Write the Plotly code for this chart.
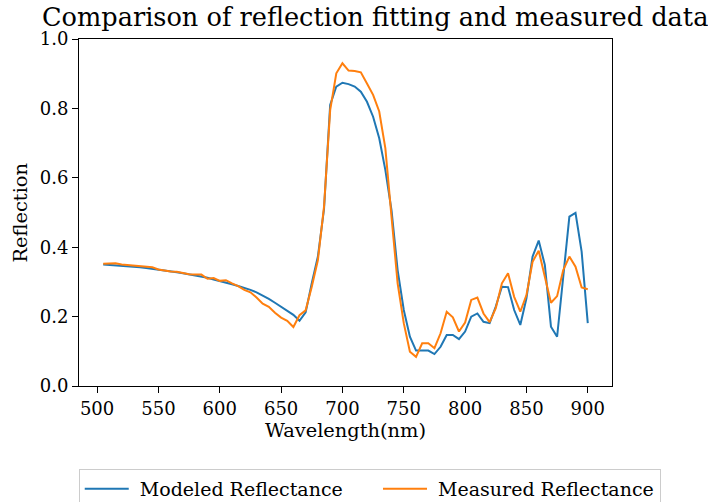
import plotly.graph_objects as go

wavelength = list(range(505, 905, 5))

modeled = [
    0.350, 0.349, 0.347, 0.345, 0.344, 0.343, 0.342, 0.340, 0.338, 0.335,
    0.332, 0.330, 0.328, 0.325, 0.322, 0.319, 0.316, 0.312, 0.307, 0.303,
    0.298, 0.293, 0.288, 0.283, 0.277, 0.270, 0.261, 0.251, 0.240, 0.229,
    0.218, 0.205, 0.188, 0.212, 0.296, 0.373, 0.510, 0.810, 0.863, 0.874,
    0.870, 0.863, 0.848, 0.819, 0.776, 0.714, 0.622, 0.507, 0.334, 0.219,
    0.142, 0.102, 0.102, 0.102, 0.092, 0.113, 0.147, 0.147, 0.135, 0.157,
    0.200, 0.209, 0.185, 0.181, 0.229, 0.286, 0.285, 0.219, 0.176, 0.253,
    0.373, 0.419, 0.349, 0.171, 0.142, 0.315, 0.488, 0.499, 0.387, 0.181,
]

measured = [
    0.352, 0.353, 0.354, 0.350, 0.348, 0.346, 0.346, 0.344, 0.342, 0.336,
    0.332, 0.330, 0.329, 0.325, 0.322, 0.321, 0.321, 0.309, 0.311, 0.303,
    0.305, 0.296, 0.288, 0.277, 0.270, 0.255, 0.237, 0.228, 0.211, 0.197,
    0.188, 0.170, 0.204, 0.218, 0.286, 0.363, 0.517, 0.795, 0.901, 0.930,
    0.909, 0.908, 0.904, 0.872, 0.839, 0.791, 0.685, 0.488, 0.296, 0.181,
    0.099, 0.084, 0.123, 0.123, 0.109, 0.152, 0.214, 0.198, 0.157, 0.183,
    0.248, 0.255, 0.209, 0.184, 0.224, 0.296, 0.325, 0.257, 0.214, 0.262,
    0.358, 0.390, 0.315, 0.240, 0.259, 0.334, 0.373, 0.344, 0.284, 0.279,
]

x_ticks = [500, 550, 600, 650, 700, 750, 800, 850, 900]
y_ticks = [0.0, 0.2, 0.4, 0.6, 0.8, 1.0]

FONT = "DejaVu Serif"
NB = "\u00a0"

fig = go.Figure()
fig.add_trace(go.Scatter(x=wavelength, y=modeled, mode="lines",
                         name=NB + "Modeled Reflectance" + NB * 5,
                         line=dict(color="#1f77b4", width=2)))
fig.add_trace(go.Scatter(x=wavelength, y=measured, mode="lines",
                         name=NB + "Measured Reflectance",
                         line=dict(color="#ff7f0e", width=2)))

axis_common = dict(showgrid=False, zeroline=False, showline=True,
                   linecolor="black", linewidth=1, mirror=True,
                   ticks="outside", ticklen=6, tickwidth=1, tickcolor="black",
                   tickfont=dict(family=FONT, size=18, color="black"))

fig.update_layout(
    width=708, height=502,
    margin=dict(l=79, r=96, t=39, b=116, autoexpand=False),
    paper_bgcolor="white", plot_bgcolor="white",
    font=dict(family=FONT, color="black"),
    xaxis=dict(range=[485.25, 919.75], tickvals=x_ticks,
               ticktext=[str(v) for v in x_ticks],
               title=dict(text="Wavelength(nm)", font=dict(family=FONT, size=19.4), standoff=4),
               **axis_common),
    yaxis=dict(range=[0, 1], tickvals=y_ticks,
               ticktext=[f"{v:.1f}" for v in y_ticks],
               **axis_common),
    showlegend=True,
    legend=dict(orientation="h", xref="paper", x=-0.0005, y=(386 - 469) / 347,
                xanchor="left", yanchor="top",
                bordercolor="#cccccc", borderwidth=1,
                font=dict(family=FONT, size=19, color="black"),
                itemwidth=44),
    annotations=[
        dict(text="Comparison of reflection fitting and measured data",
             xref="paper", yref="paper", x=0.5553, y=1.015,
             xanchor="center", yanchor="bottom", showarrow=False,
             font=dict(family=FONT, size=25.6, color="black")),
        dict(text="Reflection", xref="paper", yref="paper",
             x=(20 - 79) / 533, y=0.5, xanchor="center", yanchor="middle",
             textangle=-90, showarrow=False,
             font=dict(family=FONT, size=19.4, color="black")),
    ],
)

fig.write_html("out.html")
